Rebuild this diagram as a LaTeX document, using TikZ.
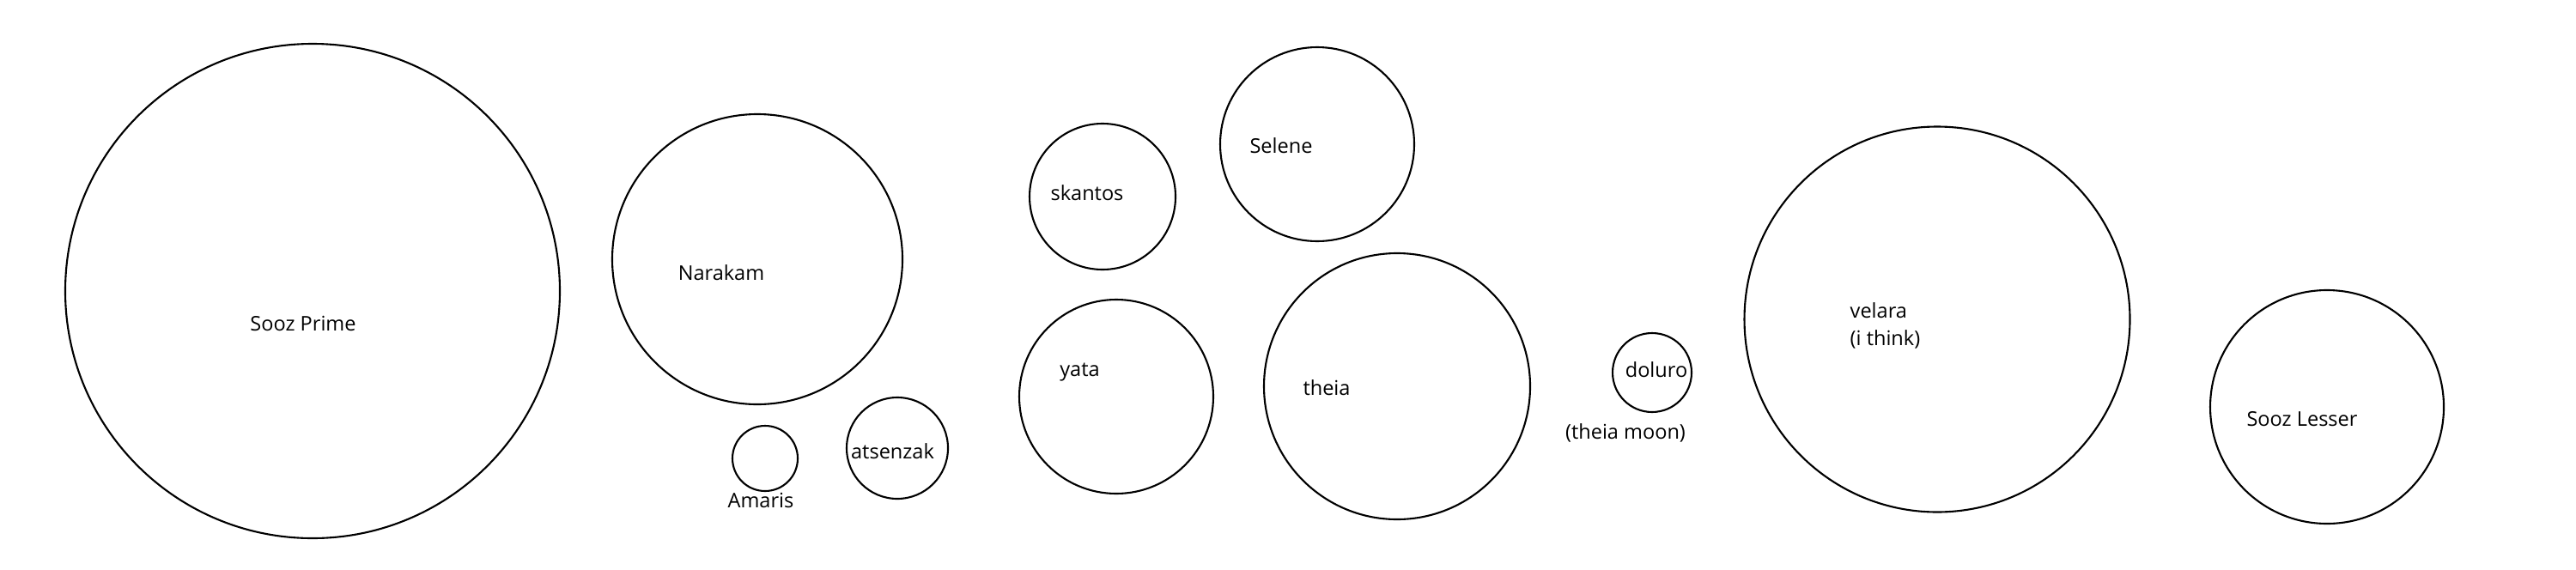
\documentclass[tikz,border=0pt]{standalone}
\usepackage{fontspec}
\setmainfont{Open Sans}
\usepackage{tikz}
\usetikzlibrary{shapes,positioning}
\tikzstyle{planet} = [draw, circle, line width=0.6pt, inner sep=0pt]
\tikzstyle{planetname} = [inner sep=0pt, font=\fontsize{6.7}{9}\selectfont, anchor=base]

\begin{document}
\begin{tikzpicture}
    \useasboundingbox (0,0) rectangle (30,6.63);
    \node [planet, minimum size=5.76cm] (soozprime) at (3.64,3.24) {};
    \node [planet, minimum size=3.38cm] (narakam) at (8.82,3.61) {};
    \node [planet, minimum size=0.76cm] (amaris) at (8.91,1.29) {};
    \node [planet, minimum size=1.18cm] (atsenzak) at (10.45,1.41) {};
    \node [planet, minimum size=1.70cm] (skantos) at (12.84,4.34) {};
    \node [planet, minimum size=2.26cm] (selene) at (15.34,4.95) {};
    \node [planet, minimum size=2.26cm] (yata) at (13.00,2.01) {};
    \node [planet, minimum size=3.10cm] (theia) at (16.27,2.13) {};
    \node [planet, minimum size=0.92cm] (doluro) at (19.24,2.29) {};
    \node [planet, minimum size=4.49cm] (velara) at (22.56,2.91) {};
    \node [planet, minimum size=2.72cm] (soozlesser) at (27.10,1.89) {};

    \node [planetname] (soozprimeL) at (3.53,2.78) {Sooz Prime};
    \node [planetname] (narakamL) at (8.40,3.37) {Narakam};
    \node [planetname] (amarisL) at (8.86,0.72) {Amaris};
    \node [planetname] (atsenzakL) at (10.395,1.29) {atsenzak};
    \node [planetname] (skantosL) at (12.66,4.30) {skantos};
    \node [planetname] (seleneL) at (14.92,4.85) {Selene};
    \node [planetname] (yataL) at (12.575,2.25) {yata};
    \node [planetname] (theiaL) at (15.45,2.03) {theia};
    \node [planetname] (doluroL) at (19.29,2.24) {doluro};
    \node [planetname] (theiamoonL) at (18.93,1.52) {(theia moon)};
    \node [planetname, anchor=base west, align=left] (velaraL) at (21.54,2.61) {velara\\(i think)};
    \node [planetname] (soozlesserL) at (26.81,1.67) {Sooz Lesser};
\end{tikzpicture}
\end{document}
